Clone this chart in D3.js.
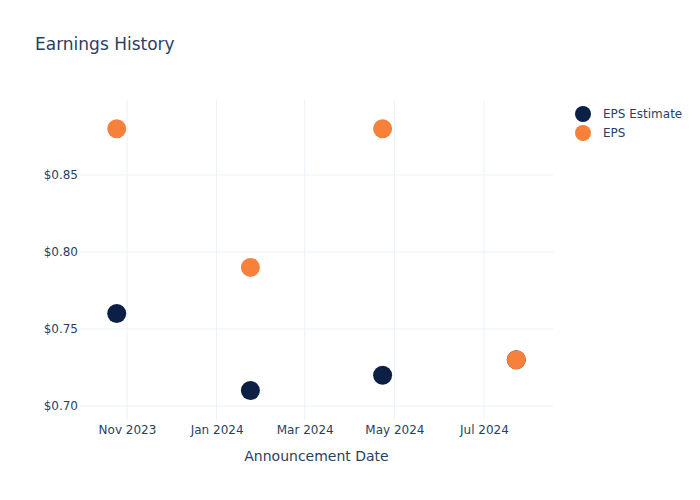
<!DOCTYPE html>
<html><head><meta charset="utf-8">
<script src="https://cdn.jsdelivr.net/npm/d3@7"></script>
<style>body{margin:0;background:#fff}svg{display:block}text{font-family:"DejaVu Sans",Verdana,sans-serif;fill:#2a3f5f}</style>
</head><body>
<svg id="c" width="700" height="500"></svg>
<script>
const dates = ["2023-10-25","2024-01-24","2024-04-23","2024-07-23"];
const epsEstimate = [0.76, 0.71, 0.72, 0.73];
const eps = [0.88, 0.79, 0.88, 0.73];
const yTicks = [0.70, 0.75, 0.80, 0.85];
const xTicks = ["2023-11-01","2024-01-01","2024-03-01","2024-05-01","2024-07-01"];
const seriesNames = ["EPS Estimate","EPS"];
const colors = ["#0c1f45","#f7803a"];

const parse = d3.utcParse("%Y-%m-%d");
const svg = d3.select("#c");
const L=80,R=553,T=100,B=420;
const x = d3.scaleUtc().domain([parse("2023-09-30"), parse("2024-08-17")]).range([L,R]);
const y = d3.scaleLinear().domain([0.6909,0.8987]).range([B,T]);

// grid
svg.append("g").selectAll("line").data(xTicks).join("line")
  .attr("x1",d=>x(parse(d))).attr("x2",d=>x(parse(d))).attr("y1",T).attr("y2",B)
  .attr("stroke","#ebf0f8").attr("stroke-width",1);
svg.append("g").selectAll("line").data(yTicks).join("line")
  .attr("x1",L).attr("x2",R).attr("y1",d=>y(d)).attr("y2",d=>y(d))
  .attr("stroke","#ebf0f8").attr("stroke-width",1);

// axes
const xa = svg.append("g").attr("transform",`translate(0,${B})`)
  .call(d3.axisBottom(x).tickValues(xTicks.map(parse)).tickFormat(d3.utcFormat("%b %Y")).tickSize(0).tickPadding(5));
xa.select(".domain").remove();
xa.selectAll("text").attr("font-size",12).style("fill","#2a3f5f").attr("font-family","DejaVu Sans, sans-serif");
const ya = svg.append("g").attr("transform",`translate(${L},0)`)
  .call(d3.axisLeft(y).tickValues(yTicks).tickFormat(d=>"$"+d3.format(".2f")(d)).tickSize(0).tickPadding(2));
ya.select(".domain").remove();
ya.selectAll("text").attr("font-size",12).style("fill","#2a3f5f").attr("font-family","DejaVu Sans, sans-serif");

// points
[epsEstimate, eps].forEach((vals,i)=>{
  svg.append("g").selectAll("circle").data(vals).join("circle")
    .attr("cx",(d,j)=>x(parse(dates[j]))).attr("cy",d=>y(d)).attr("r",9.5)
    .attr("fill",colors[i]);
});

// title
svg.append("text").attr("x",35).attr("y",50).attr("font-size",17).text("Earnings History");
svg.append("text").attr("x",(L+R)/2).attr("y",461).attr("text-anchor","middle").attr("font-size",14).text("Announcement Date");

// legend
const lg = svg.append("g");
seriesNames.forEach((n,i)=>{
  lg.append("circle").attr("cx",583).attr("cy",114+i*19).attr("r",8).attr("fill",colors[i]);
  lg.append("text").attr("x",603).attr("y",118+i*19).attr("font-size",12).text(n);
});
</script>
</body></html>
